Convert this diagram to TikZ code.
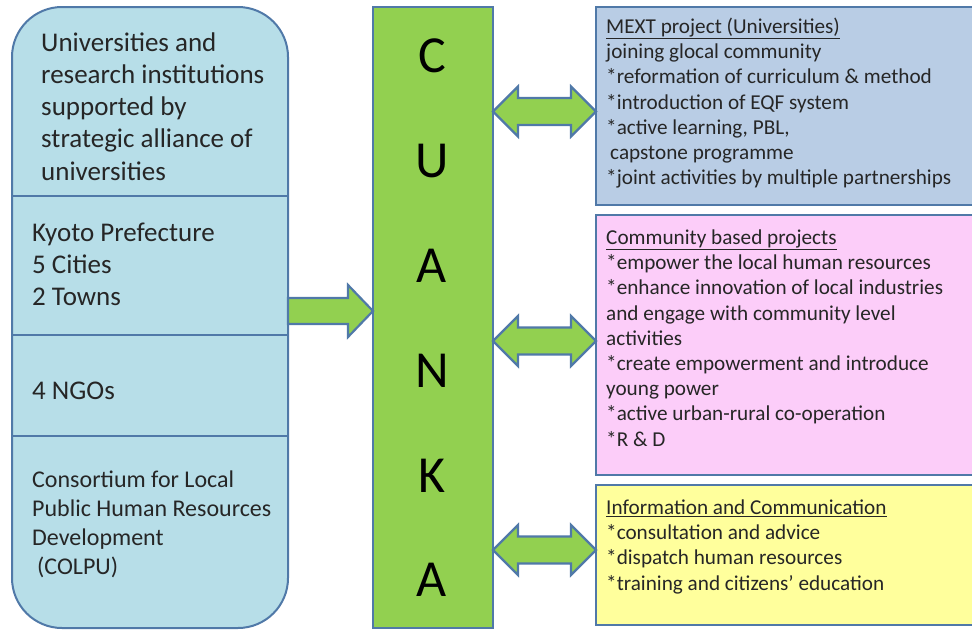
\documentclass[tikz,border=0pt]{standalone}
\usepackage{fontspec}
\setmainfont{Carlito}
\usetikzlibrary{calc}
\definecolor{leftfill}{HTML}{B7DEE8}
\definecolor{edgeblue}{HTML}{5079A8}
\definecolor{barfill}{HTML}{92D050}
\definecolor{mextfill}{HTML}{B9CDE5}
\definecolor{pinkfill}{HTML}{FCCDF9}
\definecolor{yellowfill}{HTML}{FFFF9C}
\definecolor{ink}{HTML}{262626}
\tikzset{
  boxbase/.style={draw=edgeblue, line width=2pt, outer sep=0pt, inner sep=0pt, anchor=north west},
  leftbox/.style={boxbase, fill=leftfill, rounded corners=50pt},
  barbox/.style={boxbase, fill=barfill},
  rightbox/.style={boxbase},
  divider/.style={draw=edgeblue, line width=2pt},
  bigtext/.style={anchor=base west, inner sep=0pt, text=ink, font=\fontsize{27}{32.3}\selectfont},
  midtext/.style={anchor=base west, inner sep=0pt, text=ink, font=\fontsize{24}{29.3}\selectfont},
  smalltext/.style={anchor=base west, inner sep=0pt, text=ink, font=\fontsize{21.2}{25.2}\selectfont},
  letter/.style={anchor=base, inner sep=0pt, text=black, font=\fontsize{52}{60}\selectfont},
  fatarrow/.style={draw=edgeblue, fill=barfill, line width=2.2pt, line join=miter},
  fat single/.style={fatarrow, to path={let \p1=(\tikztostart), \p2=(\tikztotarget) in
    (\x1,\y1+13pt) -- (\x2-25pt,\y1+13pt) -- (\x2-25pt,\y1+26pt) -- (\x2,\y1)
    -- (\x2-25pt,\y1-26pt) -- (\x2-25pt,\y1-13pt) -- (\x1,\y1-13pt) -- cycle}},
  fat double/.style={fatarrow, to path={let \p1=(\tikztostart), \p2=(\tikztotarget) in
    (\x1,\y1) -- (\x1+25pt,\y1+25pt) -- (\x1+25pt,\y1+13.5pt) -- (\x2-25pt,\y1+13.5pt)
    -- (\x2-25pt,\y1+25pt) -- (\x2,\y1) -- (\x2-25pt,\y1-25pt) -- (\x2-25pt,\y1-13.5pt)
    -- (\x1+25pt,\y1-13.5pt) -- (\x1+25pt,\y1-25pt) -- cycle}},
}
\newcommand{\lines}[1]{\begin{tabular}[t]{@{}l@{}}#1\end{tabular}}
\begin{document}
\begin{tikzpicture}[x=1pt,y=-1pt]
\useasboundingbox (0,0) rectangle (972,632);
\fill[white] (0,0) rectangle (972,632);

% left column
\node[leftbox, minimum width=276pt, minimum height=621pt] (left) at (12,7) {};
\draw[divider] (left.west |- 0,196) -- (left.east |- 0,196);
\draw[divider] (left.west |- 0,335) -- (left.east |- 0,335);
\draw[divider] (left.west |- 0,436) -- (left.east |- 0,436);

\node[bigtext] (univ) at (41,51) {\lines{Universities and\\research institutions\\supported by\\strategic alliance of\\universities}};
\node[bigtext] (kyoto) at (32,241) {\lines{Kyoto Prefecture\\5 Cities\\2 Towns}};
\node[bigtext] (ngo) at (32,399) {4 NGOs};
\node[midtext] (colpu) at (32,487) {\lines{Consortium for Local\\Public Human Resources\\Development\\\hspace{5pt}(COLPU)}};

% central bar
\node[barbox, minimum width=120pt, minimum height=621pt] (cunka) at (373,7) {};
\node[letter] (l1) at (432,72) {C};
\node[letter] (l2) at (432,177) {U};
\node[letter] (l3) at (432,282) {A};
\node[letter] (l4) at (432,387) {N};
\node[letter] (l5) at (432,492) {K};
\node[letter] (l6) at (432,596) {A};

% right boxes
\node[rightbox, fill=mextfill, minimum width=384pt, minimum height=198pt] (mext) at (596,7) {};
\node[rightbox, fill=pinkfill, minimum width=384pt, minimum height=260pt] (comm) at (596,215) {};
\node[rightbox, fill=yellowfill, minimum width=384pt, minimum height=140pt] (info) at (596,485) {};

\node[smalltext] (mexttext) at (606,33.5) {\lines{\underline{MEXT project (Universities)}\\joining glocal community\\{}*reformation of curriculum \& method\\{}*introduction of EQF system\\{}*active learning, PBL,\\\hspace{4pt}capstone programme\\{}*joint activities by multiple partnerships}};
\node[smalltext] (commtext) at (606,244.5) {\lines{\underline{Community based projects}\\{}*empower the local human resources\\{}*enhance innovation of local industries\\and engage with community level\\activities\\{}*create empowerment and introduce\\young power\\{}*active urban-rural co-operation\\{}*R \& D}};
\node[smalltext] (infotext) at (606,514.5) {\lines{\underline{Information and Communication}\\{}*consultation and advice\\{}*dispatch human resources\\{}*training and citizens’ education}};

% connectors
\draw[fat single] (left.east |- 0,311) to (cunka.west |- 0,311);
\draw[fat double] (cunka.east |- 0,111.5) to (mext.west |- 0,111.5);
\draw[fat double] (cunka.east |- 0,341) to (comm.west |- 0,341);
\draw[fat double] (cunka.east |- 0,550) to (info.west |- 0,550);
\end{tikzpicture}
\end{document}
